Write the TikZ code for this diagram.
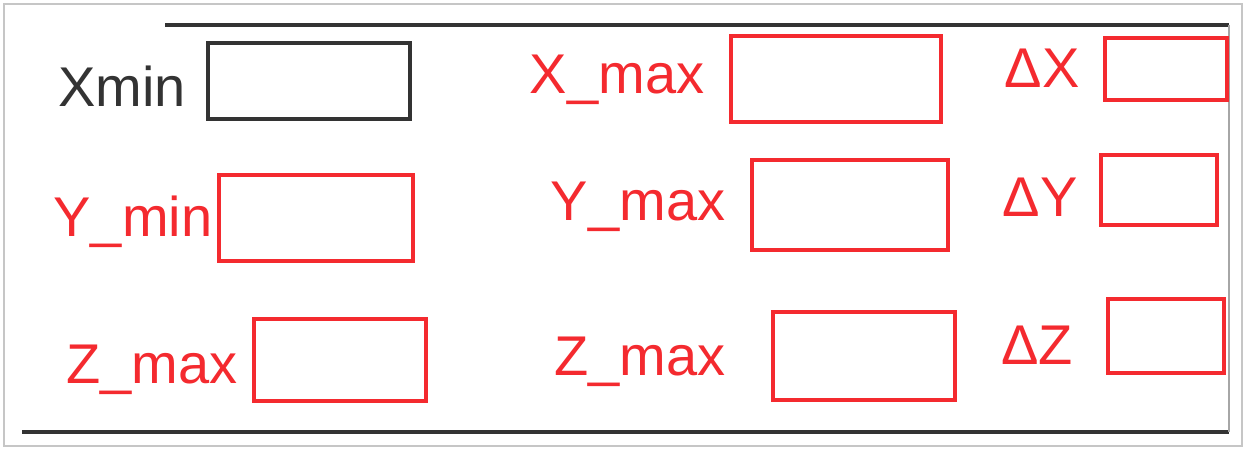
\documentclass[tikz,border=0pt]{standalone}
\usepackage{fontspec}
\setmainfont{Liberation Sans}
\definecolor{pen}{HTML}{F42A2F}
\definecolor{ink}{HTML}{333333}
\tikzset{
  field/.style={draw=pen, line width=2pt, rectangle, inner sep=0pt},
  lbl/.style={text=pen, font=\fontsize{28}{30}\selectfont, inner sep=0pt},
  rule/.style={draw=ink, line width=1.6pt},
}
\begin{document}
\begin{tikzpicture}[x=0.5pt,y=-0.5pt]
\useasboundingbox (0,0) rectangle (1246,450);
\draw[gray!45, line width=0.8pt] (4,4) rectangle (1242,446);
\coordinate (tl) at (165,25); \coordinate (tr) at (1229,25);
\coordinate (bl) at (22,432); \coordinate (br) at (1229,432);
\draw[rule] (tl) -- (tr);
\draw[rule] (bl) -- (br);
\draw[gray!70, line width=0.6pt] (tr) -- (br);
% boxes
\node[field, draw=ink, minimum width=101pt, minimum height=38pt] (bxmin) at (309,81) {};
\node[field, minimum width=105pt, minimum height=43pt] (bxmax) at (836,79) {};
\node[field, minimum width=61pt, minimum height=31pt] (bdx) at (1166,69) {};
\node[field, minimum width=97pt, minimum height=43pt] (bymin) at (316,218) {};
\node[field, minimum width=98pt, minimum height=45pt] (bymax) at (850,205) {};
\node[field, minimum width=58pt, minimum height=35pt] (bdy) at (1159,190) {};
\node[field, minimum width=86pt, minimum height=41pt] (bzmin) at (340,360) {};
\node[field, minimum width=91pt, minimum height=44pt] (bzmax) at (864,356) {};
\node[field, minimum width=58pt, minimum height=37pt] (bdz) at (1166,336) {};
% labels
\node[lbl, text=ink] (lxmin) at (122,86) {Xmin};
\node[lbl] (lxmax) at (617,80) {X\_max};
\node[lbl] (ldx) at (1042,68) {ΔX};
\node[lbl] (lymin) at (133,222) {Y\_min};
\node[lbl] (lymax) at (638,207) {Y\_max};
\node[lbl] (ldy) at (1040,197) {ΔY};
\node[lbl] (lzmin) at (152,370) {Z\_max};
\node[lbl] (lzmax) at (640,362) {Z\_max};
\node[lbl] (ldz) at (1037,345) {ΔZ};
\end{tikzpicture}
\end{document}
